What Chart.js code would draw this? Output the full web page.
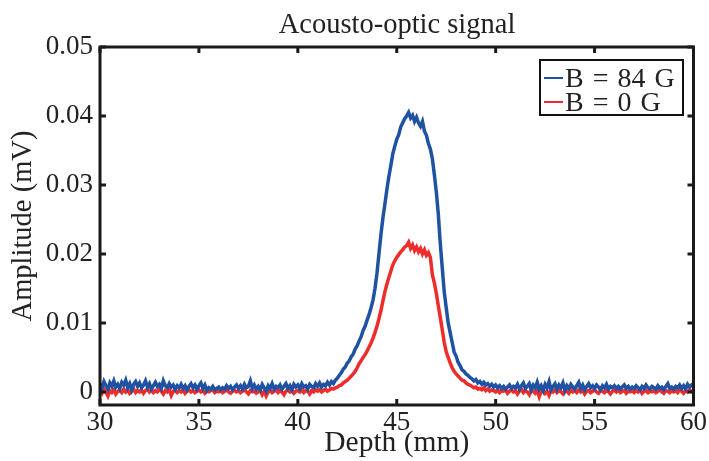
<!DOCTYPE html>
<html>
<head>
<meta charset="utf-8">
<script src="https://cdn.jsdelivr.net/npm/chart.js@4"></script>
<style>
  body { margin: 0; background: #fff; }
  #wrap { position: relative; width: 709px; height: 461px; }
  #title {
    position: absolute; left: 197px; width: 400px; top: 10px; text-align: center;
    font-family: "Liberation Serif", "Times New Roman", serif; font-size: 28.5px; line-height: 1; color: #222;
  }
  #legend {
    position: absolute; left: 539px; top: 59px; width: 145px; height: 57px;
    border: 2.5px solid #111; background: #fff;
    font-family: "Liberation Serif", "Times New Roman", serif; font-size: 28px; line-height: 24px;
    color: #222; padding-top: 5px; box-sizing: border-box;
  }
  #legend .row { display: flex; align-items: center; white-space: nowrap; word-spacing: 2px; }
  #legend .swatch { display: inline-block; width: 19px; height: 2.5px; margin: 0 2px 0 3px; }
</style>
</head>
<body>
<div id="wrap">
  <canvas id="chart" width="709" height="461"></canvas>
  <div id="title">Acousto-optic signal</div>
  <div id="legend"></div>
</div>
<script>
// Depth axis (mm), one sample every 0.1 mm
const DEPTH = [
  30.0,30.1,30.2,30.3,30.4,30.5,30.6,30.7,30.8,30.9,
  31.0,31.1,31.2,31.3,31.4,31.5,31.6,31.7,31.8,31.9,
  32.0,32.1,32.2,32.3,32.4,32.5,32.6,32.7,32.8,32.9,
  33.0,33.1,33.2,33.3,33.4,33.5,33.6,33.7,33.8,33.9,
  34.0,34.1,34.2,34.3,34.4,34.5,34.6,34.7,34.8,34.9,
  35.0,35.1,35.2,35.3,35.4,35.5,35.6,35.7,35.8,35.9,
  36.0,36.1,36.2,36.3,36.4,36.5,36.6,36.7,36.8,36.9,
  37.0,37.1,37.2,37.3,37.4,37.5,37.6,37.7,37.8,37.9,
  38.0,38.1,38.2,38.3,38.4,38.5,38.6,38.7,38.8,38.9,
  39.0,39.1,39.2,39.3,39.4,39.5,39.6,39.7,39.8,39.9,
  40.0,40.1,40.2,40.3,40.4,40.5,40.6,40.7,40.8,40.9,
  41.0,41.1,41.2,41.3,41.4,41.5,41.6,41.7,41.8,41.9,
  42.0,42.1,42.2,42.3,42.4,42.5,42.6,42.7,42.8,42.9,
  43.0,43.1,43.2,43.3,43.4,43.5,43.6,43.7,43.8,43.9,
  44.0,44.1,44.2,44.3,44.4,44.5,44.6,44.7,44.8,44.9,
  45.0,45.1,45.2,45.3,45.4,45.5,45.6,45.7,45.8,45.9,
  46.0,46.1,46.2,46.3,46.4,46.5,46.6,46.7,46.8,46.9,
  47.0,47.1,47.2,47.3,47.4,47.5,47.6,47.7,47.8,47.9,
  48.0,48.1,48.2,48.3,48.4,48.5,48.6,48.7,48.8,48.9,
  49.0,49.1,49.2,49.3,49.4,49.5,49.6,49.7,49.8,49.9,
  50.0,50.1,50.2,50.3,50.4,50.5,50.6,50.7,50.8,50.9,
  51.0,51.1,51.2,51.3,51.4,51.5,51.6,51.7,51.8,51.9,
  52.0,52.1,52.2,52.3,52.4,52.5,52.6,52.7,52.8,52.9,
  53.0,53.1,53.2,53.3,53.4,53.5,53.6,53.7,53.8,53.9,
  54.0,54.1,54.2,54.3,54.4,54.5,54.6,54.7,54.8,54.9,
  55.0,55.1,55.2,55.3,55.4,55.5,55.6,55.7,55.8,55.9,
  56.0,56.1,56.2,56.3,56.4,56.5,56.6,56.7,56.8,56.9,
  57.0,57.1,57.2,57.3,57.4,57.5,57.6,57.7,57.8,57.9,
  58.0,58.1,58.2,58.3,58.4,58.5,58.6,58.7,58.8,58.9,
  59.0,59.1,59.2,59.3,59.4,59.5,59.6,59.7,59.8,59.9,
  60.0
];

// B = 84 G (mV)
const AMP_84G = [
  .0012,.0006,.0015,.0009,.0004,.0013,.0008,.0016,.0007,.0011,
  .0005,.0014,.0010,.0017,.0006,.0012,.0003,.0011,.0015,.0008,
  .0013,.0006,.0010,.0016,.0007,.0012,.0004,.0009,.0014,.0008,
  .0011,.0005,.0016,.0009,.0006,.0012,.0007,.0010,.0004,.0009,
  .0006,.0011,.0005,.0009,.0003,.0008,.0012,.0006,.0010,.0004,
  .0009,.0013,.0005,.0010,.0002,.0006,.0004,.0008,.0003,.0005,
  .0007,.0003,.0006,.0004,.0009,.0005,.0008,.0003,.0007,.0010,
  .0005,.0009,.0004,.0011,.0006,.0008,.0016,.0005,.0010,.0004,
  .0008,.0003,.0011,.0006,.0001,.0009,.0005,.0012,.0004,.0008,
  .0006,.0010,.0004,.0008,.0012,.0005,.0009,.0003,.0011,.0007,
  .0010,.0005,.0012,.0007,.0009,.0004,.0011,.0008,.0006,.0012,
  .0008,.0013,.0007,.0011,.0009,.0014,.0010,.0015,.0012,.0017,
  .0020,.0024,.0028,.0033,.0036,.0042,.0045,.0051,.0055,.0062,
  .0067,.0074,.0080,.0089,.0095,.0104,.0112,.0122,.0133,.0150,
  .0172,.0200,.0228,.0252,.0272,.0293,.0312,.0328,.0345,.0356,
  .0366,.0373,.0384,.0390,.0396,.0400,.0405,.0397,.0401,.0392,
  .0398,.0390,.0385,.0392,.0378,.0372,.0360,.0352,.0338,.0315,
  .0290,.0258,.0215,.0180,.0145,.0122,.0100,.0086,.0072,.0058,
  .0052,.0043,.0038,.0032,.0030,.0026,.0024,.0021,.0019,.0016,
  .0018,.0013,.0015,.0011,.0014,.0010,.0012,.0008,.0011,.0007,
  .0010,.0006,.0009,.0005,.0008,.0004,.0007,.0010,.0005,.0008,
  .0006,.0011,.0004,.0009,.0013,.0005,.0008,.0012,.0003,.0010,
  .0006,.0014,.0004,.0009,.0002,.0011,.0006,.0015,.0003,.0008,
  .0012,.0004,.0010,.0006,.0013,.0002,.0009,.0005,.0011,.0007,
  .0004,.0009,.0014,.0005,.0010,.0003,.0008,.0012,.0006,.0009,
  .0005,.0010,.0007,.0003,.0009,.0006,.0011,.0004,.0008,.0006,
  .0009,.0005,.0008,.0004,.0007,.0010,.0005,.0008,.0004,.0007,
  .0005,.0009,.0006,.0003,.0008,.0005,.0010,.0006,.0004,.0008,
  .0006,.0004,.0009,.0005,.0007,.0003,.0008,.0012,.0005,.0007,
  .0004,.0008,.0006,.0010,.0005,.0009,.0004,.0011,.0007,.0010,
  .0008
];

// B = 0 G (mV)
const AMP_0G = [
  .0003,-.0002,.0004,.0000,-.0006,.0002,-.0001,.0003,-.0003,.0001,
  .0002,-.0001,.0004,.0000,.0003,-.0002,.0001,.0004,-.0001,.0002,
  .0000,.0003,-.0002,.0002,.0004,.0000,.0003,-.0001,.0002,.0000,
  .0004,.0001,-.0003,.0002,.0000,.0003,-.0005,.0001,.0002,-.0001,
  .0002,.0000,.0003,-.0002,.0001,.0003,.0000,.0002,-.0001,.0001,
  .0003,.0000,.0002,-.0002,.0001,.0000,.0002,.0003,-.0001,.0001,
  .0000,.0002,-.0001,.0001,.0003,.0000,-.0002,.0001,.0002,.0000,
  .0002,-.0001,.0001,.0003,.0000,-.0003,.0002,.0000,.0001,-.0002,
  .0000,.0002,-.0004,.0001,-.0006,.0000,.0002,-.0001,.0001,.0003,
  -.0001,.0002,.0000,-.0004,.0001,.0003,.0000,.0002,-.0002,.0001,
  .0002,.0000,.0003,-.0001,.0002,.0001,-.0003,.0002,.0000,.0003,
  .0001,.0003,.0000,.0002,.0004,.0001,.0003,.0005,.0004,.0006,
  .0007,.0009,.0010,.0013,.0015,.0017,.0020,.0023,.0026,.0030,
  .0035,.0041,.0045,.0050,.0054,.0059,.0065,.0071,.0078,.0086,
  .0095,.0106,.0118,.0132,.0145,.0156,.0166,.0175,.0184,.0190,
  .0195,.0199,.0203,.0206,.0210,.0212,.0217,.0208,.0213,.0205,
  .0210,.0203,.0208,.0200,.0206,.0198,.0202,.0195,.0170,.0158,
  .0143,.0125,.0108,.0090,.0072,.0058,.0050,.0042,.0035,.0030,
  .0026,.0023,.0020,.0017,.0016,.0013,.0011,.0010,.0008,.0006,
  .0007,.0004,.0005,.0003,.0006,.0002,.0004,.0001,.0003,.0002,
  .0000,.0003,-.0001,.0002,.0001,.0004,-.0002,.0001,.0003,.0000,
  .0002,-.0003,.0001,.0004,-.0001,.0002,.0000,-.0004,.0003,.0001,
  -.0002,.0002,-.0007,.0001,.0003,-.0002,.0001,-.0005,.0002,.0000,
  .0003,-.0001,.0002,.0000,-.0003,.0002,.0001,-.0002,.0003,.0000,
  .0002,-.0001,.0003,.0000,.0002,-.0003,.0001,.0002,-.0001,.0001,
  .0003,.0000,-.0002,.0002,.0001,-.0001,.0002,.0000,-.0003,.0001,
  .0002,.0000,.0003,-.0001,.0001,.0002,-.0002,.0001,.0000,.0002,
  -.0001,.0002,.0000,.0003,-.0002,.0001,.0002,-.0001,.0001,.0000,
  .0002,-.0001,.0001,.0003,.0000,-.0002,.0002,.0001,-.0001,.0002,
  .0000,.0002,-.0001,.0003,.0001,-.0002,.0002,.0000,.0003,.0001,
  .0002
];

const SERIES_NAMES = ["B = 84 G", "B = 0 G"];
const SERIES_COLORS = ["#1f52a3", "#ee2c2c"];
const X_TICKS = [30, 35, 40, 45, 50, 55, 60];
const Y_TICKS = [0, 0.01, 0.02, 0.03, 0.04, 0.05];

const FONT = "'Liberation Serif', 'Times New Roman', serif";
const INK = "#1a1a1a";

// frame + inward ticks on all four sides (matlab-style box)
const boxPlugin = {
  id: "box",
  afterDraw(chart) {
    const { ctx, chartArea: a, scales } = chart;
    const len = 6;
    ctx.save();
    ctx.strokeStyle = INK;
    ctx.lineWidth = 3;
    ctx.strokeRect(a.left, a.top, a.right - a.left, a.bottom - a.top);
    ctx.beginPath();
    X_TICKS.forEach((v) => {
      const px = scales.x.getPixelForValue(v);
      ctx.moveTo(px, a.bottom); ctx.lineTo(px, a.bottom - len);
      ctx.moveTo(px, a.top); ctx.lineTo(px, a.top + len);
    });
    Y_TICKS.forEach((v) => {
      const py = scales.y.getPixelForValue(v);
      ctx.moveTo(a.left, py); ctx.lineTo(a.left + len, py);
      ctx.moveTo(a.right, py); ctx.lineTo(a.right - len, py);
    });
    ctx.stroke();
    ctx.restore();
  },
};

const toPoints = (ys) => DEPTH.map((x, i) => ({ x, y: ys[i] }));

new Chart(document.getElementById("chart"), {
  type: "line",
  data: {
    datasets: [
      { label: SERIES_NAMES[0], data: toPoints(AMP_84G), borderColor: SERIES_COLORS[0], borderWidth: 3.5, pointRadius: 0, tension: 0 },
      { label: SERIES_NAMES[1], data: toPoints(AMP_0G), borderColor: SERIES_COLORS[1], borderWidth: 3.5, pointRadius: 0, tension: 0 },
    ],
  },
  options: {
    responsive: false, animation: false,
    layout: { padding: { left: 0, right: 15, top: 47, bottom: 0 } },
    plugins: { legend: { display: false }, tooltip: { enabled: false }, title: { display: false } },
    scales: {
      x: {
        type: "linear", min: 30, max: 60,
        afterBuildTicks: (s) => { s.ticks = X_TICKS.map((v) => ({ value: v })); },
        afterFit: (s) => { s.height = 56; },
        grid: { display: false, drawTicks: false }, border: { display: false },
        ticks: { color: "#222", padding: 2, font: { family: FONT, size: 27 }, maxRotation: 0 },
        title: { display: true, text: "Depth (mm)", color: "#222", font: { family: FONT, size: 29.5 }, padding: { top: 0, bottom: 0 } },
      },
      y: {
        min: -0.0019, max: 0.05,
        afterBuildTicks: (s) => { s.ticks = Y_TICKS.map((v) => ({ value: v })); },
        afterFit: (s) => { s.width = 100; },
        grid: { display: false, drawTicks: false }, border: { display: false },
        ticks: { color: "#222", padding: 7, font: { family: FONT, size: 27 }, callback: (v) => String(v) },
        title: { display: true, text: "Amplitude (mV)", color: "#222", font: { family: FONT, size: 28.5 }, padding: { top: 6, bottom: 0 } },
      },
    },
  },
  plugins: [boxPlugin],
});

// legend box inside the plot, top right
document.getElementById("legend").innerHTML = SERIES_NAMES.map((n, i) =>
  `<div class="row"><span class="swatch" style="background:${SERIES_COLORS[i]}"></span>${n}</div>`).join("");
</script>
</body>
</html>
